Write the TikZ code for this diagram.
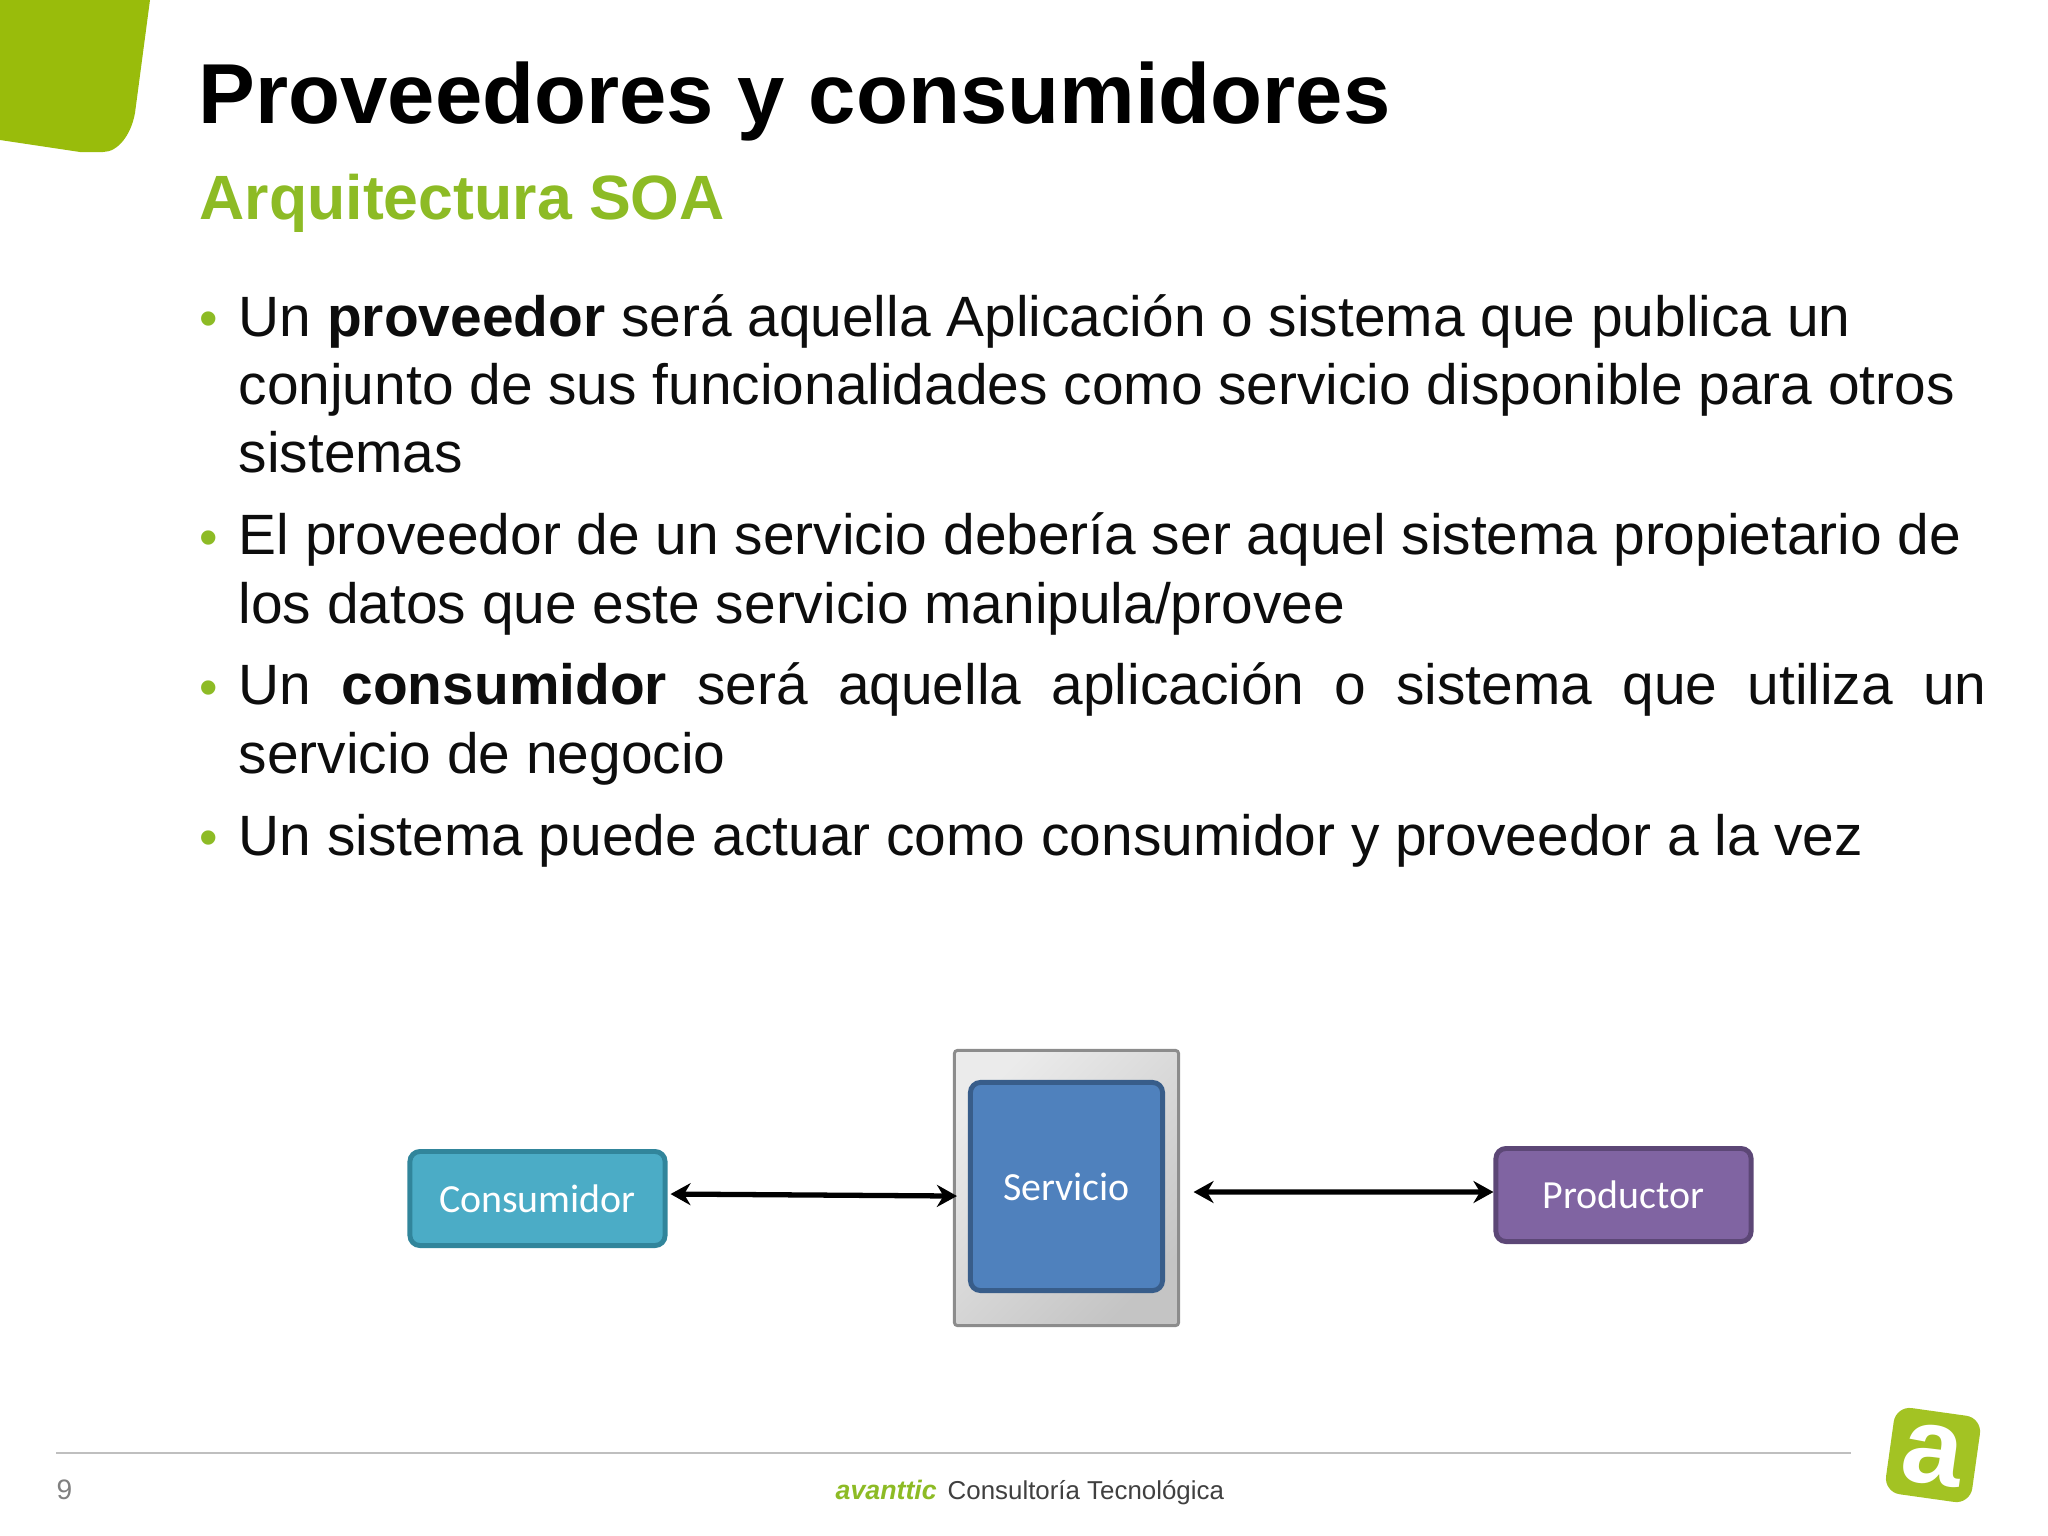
\documentclass[tikz,border=0pt]{standalone}
\usepackage{fontspec}
\setmainfont{Liberation Sans}
\newfontfamily\calibrifont{Carlito}
\usetikzlibrary{arrows.meta,positioning}
\definecolor{leafgreen}{HTML}{99BC0B}
\definecolor{subgreen}{HTML}{8DBB25}
\definecolor{footgray}{HTML}{BFBFBF}
\definecolor{numgray}{HTML}{808080}
\definecolor{footdark}{HTML}{404040}
\tikzset{
	titletext/.style={anchor=base west,inner sep=0pt,font=\fontsize{24.2}{29}\selectfont\bfseries},
	subtext/.style={anchor=base west,inner sep=0pt,text=subgreen,font=\fontsize{17.8}{21}\selectfont\bfseries},
	bodytext/.style={anchor=base west,inner sep=0pt,align=left,text=black!95,font=\fontsize{16.17}{19.35}\selectfont},
	bulletmark/.style={anchor=base west,inner sep=0pt,text=subgreen,font=\fontsize{15}{19.35}\selectfont},
	foottext/.style={anchor=base west,inner sep=0pt,font=\fontsize{7.36}{9}\selectfont},
	box/.style={draw,line width=1.4pt,rounded corners=0.1cm,align=center,text=white,font=\calibrifont\fontsize{11.35}{13}\selectfont},
	frame/.style={draw=black!45,line width=0.85pt,rounded corners=0.03cm,top color=black!8,bottom color=black!23,shading angle=45},
	both/.style={{Stealth[length=0.2cm,width=0.22cm]}-{Stealth[length=0.2cm,width=0.22cm]},line width=1.5pt}
}
\begin{document}
\begin{tikzpicture}[x=0.01cm,y=-0.01cm]
	\useasboundingbox (0,0) rectangle (2048,1536);
	\fill[leafgreen] (0,0) -- (150,0) -- (135,113) .. controls (131,135) and (118,152) .. (103,152) -- (80,152) -- (0,140) -- cycle;

	\node[titletext] (title) at (198,123) {Proveedores y consumidores};
	\node[subtext] (subtitle) at (199,219.5) {Arquitectura SOA};

	\node[bulletmark] (b1) at (199,336) {•};
	\node[bodytext] (item1) at (238,472.5) {Un \textbf{proveedor} será aquella Aplicación o sistema que publica un\\conjunto de sus funcionalidades como servicio disponible para otros\\sistemas};
	\node[bulletmark] (b2) at (199,555) {•};
	\node[bodytext] (item2) at (238,623) {El proveedor de un servicio debería ser aquel sistema propietario de\\los datos que este servicio manipula/provee};
	\node[bulletmark] (b3) at (199,705) {•};
	\node[bodytext] (item3) at (238,773) {\makebox[17.47cm][s]{Un \textbf{consumidor} será aquella aplicación o sistema que utiliza un}\\servicio de negocio};
	\node[bulletmark] (b4) at (199,855) {•};
	\node[bodytext] (item4) at (238,855.5) {Un sistema puede actuar como consumidor y proveedor a la vez};

	\node[frame,minimum width=2.24cm,minimum height=2.75cm] (marco) at (1066.5,1188) {};
	\node[box,fill={rgb,255:red,79;green,129;blue,189},draw={rgb,255:red,56;green,93;blue,138},minimum width=1.92cm,minimum height=2.08cm] (servicio) at (1066.5,1186.5) {Servicio};
	\node[box,fill={rgb,255:red,75;green,172;blue,198},draw={rgb,255:red,49;green,133;blue,155},minimum width=2.55cm,minimum height=0.94cm] (consumidor) at (537.5,1198.5) {Consumidor};
	\node[box,fill={rgb,255:red,128;green,100;blue,162},draw={rgb,255:red,92;green,71;blue,118},minimum width=2.55cm,minimum height=0.93cm] (productor) at (1623.5,1195) {Productor};

	\draw[both,shorten <=0.03cm,shorten >=-0.04cm] ([yshift=0.045cm]consumidor.east) -- ([yshift=-0.08cm]marco.west);
	\draw[both,shorten <=0.135cm] ([yshift=-0.04cm]marco.east) -- ([yshift=0.03cm]productor.west);

	\draw[footgray,line width=0.55pt] (56,1453) -- (1851,1453);
	\node[foottext,text=numgray,font=\fontsize{8}{9}\selectfont] (page) at (56,1499) {9};
	\node[foottext,text=subgreen,font=\fontsize{7.6}{9}\selectfont\bfseries\itshape] (brand) at (835,1499) {avanttic};
	\node[foottext,text=footdark] (claim) at (947,1499) {Consultoría Tecnológica};

	\node[fill=leafgreen!90!white,rounded corners=0.16cm,rotate=-8,minimum size=0.87cm,inner sep=0pt,text=white,font=\fontsize{31}{31}\selectfont\bfseries] (logo) at (1933,1455) {a};
\end{tikzpicture}
\end{document}
